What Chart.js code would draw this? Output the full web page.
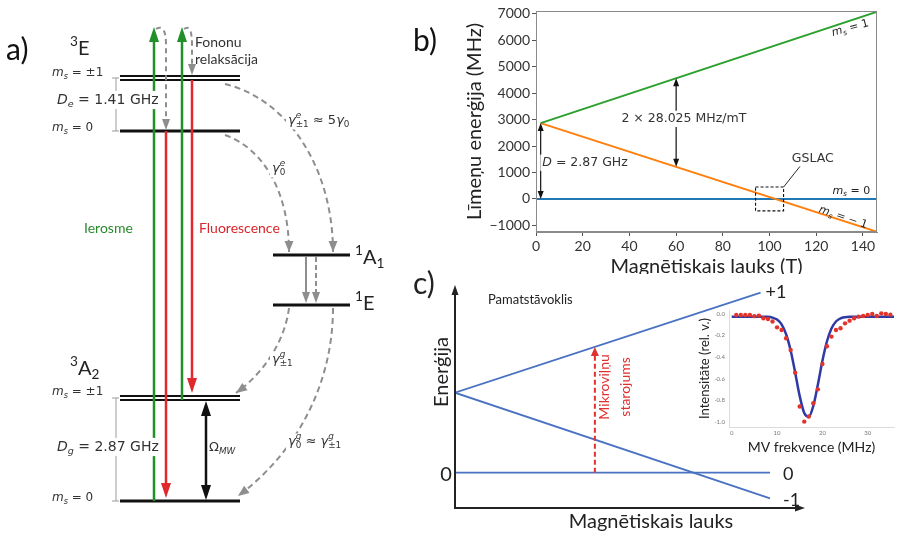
<!DOCTYPE html>
<html>
<head>
<meta charset="utf-8">
<script src="https://cdn.jsdelivr.net/npm/chart.js@4.4.1/dist/chart.umd.min.js"></script>
<style>
  body { margin: 0; background: #fff; width: 902px; height: 534px; overflow: hidden; position: relative; }
  canvas { position: absolute; }
  #ca { left: 0; top: 0; }
  #cb { left: 400px; top: 0; }
  #cc { left: 410px; top: 262px; }
  #cd { left: 690px; top: 300px; }
</style>
</head>
<body>
<canvas id="ca" width="400" height="534"></canvas>
<canvas id="cb" width="502" height="274"></canvas>
<canvas id="cc" width="492" height="272"></canvas>
<canvas id="cd" width="212" height="160"></canvas>
<script>
// ---- Panel a: NV centre level scheme (diagram units) ----
const levelY  = [76, 80, 131, 255, 305, 396, 400, 501];
const levelX0 = [120, 120, 120, 273, 273, 120, 120, 120];
const levelX1 = [240, 240, 240, 350, 350, 240, 240, 240];
const pumpX = [154, 182];        // green excitation
const pumpFrom = [501, 400];
const pumpTip = 27;
const fluoX = [166, 192];        // red fluorescence
const fluoFrom = [131, 80];
const fluoTip = [498, 393];

// ---- Panel b: ground state levels vs field ----
const fieldB = [2, 146];
const fieldB0 = [0, 146];
const levelPlusB = [2870, 7080];    // m_s = 1
const levelMinusB = [2870, -1240];  // m_s = -1
const levelZeroB = [0, 0];          // m_s = 0
const xTicksB = [0, 20, 40, 60, 80, 100, 120, 140];
const yTicksB = [-1000, 0, 1000, 2000, 3000, 4000, 5000, 6000, 7000];

// ---- Panel c: schematic splitting ----
const fieldC = [0, 10];
const fieldCPlus = [0, 9.7];
const levelPlusC = [1, 2.25];
const levelMinusC = [1, -0.32];
const levelZeroC = [0, 0];
const mwField = 4.44;

// ---- Inset: ODMR dip ----
const odmrX = [1, 2, 3, 4, 5, 6, 7, 8, 9, 10, 11, 12, 13, 14, 15, 16, 17, 18,
               19, 20, 21, 22, 23, 24, 25, 26, 27, 28, 29, 30, 31, 32, 33, 34, 35];
const odmrY = [-0.01, -0.01, -0.01, -0.01, -0.02, -0.015, -0.04, -0.046, -0.07, -0.124,
               -0.149, -0.226, -0.334, -0.545, -0.86, -1.0, -0.953, -0.83, -0.70, -0.464,
               -0.30, -0.21, -0.149, -0.133, -0.087, -0.062, -0.04, -0.025, -0.019, -0.009,
               0.0, -0.019, 0.006, 0.0, -0.006];
const fitX = [0, 2, 4, 6, 8, 9, 10, 11, 12, 13, 14, 15, 16, 17, 18, 19, 20, 21, 22,
              23, 24, 25, 26, 28, 30, 32, 34, 36];
const fitY = [-0.025, -0.025, -0.025, -0.025, -0.026, -0.034, -0.052, -0.097, -0.188,
              -0.339, -0.545, -0.763, -0.92, -0.955, -0.853, -0.657, -0.437, -0.256,
              -0.135, -0.07, -0.041, -0.03, -0.026, -0.025, -0.025, -0.025, -0.025, -0.025];
const insetXTicks = [0, 10, 20, 30];
const insetYTicks = [-1.0, -0.8, -0.6, -0.4, -0.2, 0.0];

Chart.defaults.font.family = 'Lato';
Chart.defaults.animation = false;

const pts = (xs, ys) => xs.map((x, i) => ({ x, y: ys[i] }));
const lerp = (xs, ys, x) => ys[0] + (ys[1] - ys[0]) * (x - xs[0]) / (xs[1] - xs[0]);
const noUi = { legend: { display: false }, tooltip: { enabled: false } };

function head(ctx, x, y, ang, len, w, color) {
    ctx.save();
    ctx.translate(x, y);
    ctx.rotate(ang);
    ctx.beginPath();
    ctx.moveTo(0, 0);
    ctx.lineTo(-len, -w / 2);
    ctx.lineTo(-len, w / 2);
    ctx.closePath();
    ctx.fillStyle = color;
    ctx.fill();
    ctx.restore();
}

// text with italics, sub/superscripts; flags: i italic, b sub, p sup; 3rd item = stacked sub
function rich(ctx, x, y, parts, size, opts = {}) {
    const fam = opts.family || 'DejaVu Sans';
    const f = (s, it) => `${it ? 'italic ' : ''}${s}px "${fam}"`;
    let w = 0;
    const items = parts.map(p => {
        const [t, fl = '', t2] = p;
        const s = (fl.includes('b') || fl.includes('p')) ? size * 0.68 : size;
        ctx.font = f(s, fl.includes('i'));
        let wd = ctx.measureText(t).width;
        if (t2) { ctx.font = f(s, false); wd = Math.max(wd, ctx.measureText(t2).width); }
        const r = { t, fl, t2, s, x: w };
        w += wd;
        return r;
    });
    const x0 = opts.align === 'center' ? -w / 2 : 0;
    ctx.save();
    ctx.translate(x, y);
    if (opts.rot) ctx.rotate(opts.rot);
    if (opts.bg) {
        ctx.fillStyle = opts.bg;
        ctx.fillRect(x0 - 2, -size * 0.65, w + 4, size * 1.3);
    }
    ctx.fillStyle = opts.color || '#333';
    ctx.textBaseline = 'middle';
    ctx.textAlign = 'left';
    items.forEach(r => {
        const dy = r.fl.includes('b') ? size * 0.3 : r.fl.includes('p') ? -size * 0.38 : 0;
        ctx.font = f(r.s, r.fl.includes('i'));
        ctx.fillText(r.t, x0 + r.x, dy);
        if (r.t2) { ctx.font = f(r.s, false); ctx.fillText(r.t2, x0 + r.x, size * 0.32); }
    });
    ctx.restore();
    return w;
}

// ================= Panel a =================
const seg = (x1, y1, x2, y2, color, width) => ({
    data: [{ x: x1, y: y1 }, { x: x2, y: y2 }],
    showLine: true, borderColor: color, borderWidth: width, pointRadius: 0
});
const dsA = [];
pumpX.forEach((px, i) => dsA.push(seg(px, pumpFrom[i], px, pumpTip + 12, '#22902a', 2.5)));
fluoX.forEach((fx, i) => dsA.push(seg(fx, fluoFrom[i], fx, fluoTip[i] - 12, '#e1282d', 2.5)));
levelY.forEach((ly, i) => {
    const dbl = i === 0 || i === 1 || i === 5 || i === 6;
    dsA.push(seg(levelX0[i], ly, levelX1[i], ly, '#111', dbl ? 2 : 3));
});

const diagram = {
    id: 'diagram',
    afterDatasetsDraw(chart) {
        const { ctx, scales: { x, y } } = chart;
        const X = v => x.getPixelForValue(v), Y = v => y.getPixelForValue(v);
        const gray = '#8e8e8e';
        ctx.save();

        // arrow heads of optical transitions
        pumpX.forEach(px => head(ctx, X(px), Y(pumpTip), -Math.PI / 2, 15, 10, '#22902a'));
        fluoX.forEach((fx, i) => head(ctx, X(fx), Y(fluoTip[i]), Math.PI / 2, 15, 10, '#e1282d'));

        // phonon relaxation loops
        ctx.strokeStyle = gray; ctx.lineWidth = 2; ctx.setLineDash([5, 4]);
        [[pumpX[0], fluoX[0], fluoFrom[0]], [pumpX[1], fluoX[1], levelY[0]]].forEach(([px, fx, end]) => {
            ctx.beginPath();
            ctx.moveTo(X(px + 2), Y(pumpTip + 2));
            ctx.quadraticCurveTo(X(fx), Y(pumpTip - 4), X(fx), Y(pumpTip + 18));
            ctx.lineTo(X(fx), Y(end - 10));
            ctx.stroke();
            head(ctx, X(fx), Y(end - 1), Math.PI / 2, 11, 8, gray);
        });

        // intersystem crossing curves
        const curves = [
            [[225, 84], [290, 100], [333, 170], [333, 252]],
            [[225, 135], [262, 148], [289, 190], [289, 252]],
            [[289, 308], [285, 340], [265, 372], [236, 393]],
            [[333, 308], [333, 380], [300, 450], [238, 496]]
        ];
        curves.forEach(c => {
            ctx.setLineDash([6, 4]);
            ctx.beginPath();
            ctx.moveTo(X(c[0][0]), Y(c[0][1]));
            ctx.bezierCurveTo(X(c[1][0]), Y(c[1][1]), X(c[2][0]), Y(c[2][1]), X(c[3][0]), Y(c[3][1]));
            ctx.stroke();
            ctx.setLineDash([]);
            const ang = Math.atan2(Y(c[3][1]) - Y(c[2][1]), X(c[3][0]) - X(c[2][0]));
            head(ctx, X(c[3][0]), Y(c[3][1]), ang, 11, 9, gray);
        });

        // singlet decay 1A1 -> 1E
        ctx.lineWidth = 2;
        ctx.setLineDash([]);
        ctx.beginPath(); ctx.moveTo(X(306), Y(257)); ctx.lineTo(X(306), Y(293)); ctx.stroke();
        head(ctx, X(306), Y(303), Math.PI / 2, 11, 8, gray);
        ctx.setLineDash([5, 3]);
        ctx.beginPath(); ctx.moveTo(X(316), Y(257)); ctx.lineTo(X(316), Y(293)); ctx.stroke();
        ctx.setLineDash([]);
        head(ctx, X(316), Y(303), Math.PI / 2, 11, 8, gray);

        // microwave drive
        ctx.strokeStyle = '#111'; ctx.lineWidth = 2.5;
        ctx.beginPath(); ctx.moveTo(X(206), Y(414)); ctx.lineTo(X(206), Y(487)); ctx.stroke();
        head(ctx, X(206), Y(401), -Math.PI / 2, 15, 10, '#111');
        head(ctx, X(206), Y(500), Math.PI / 2, 15, 10, '#111');

        // zero-field splitting brackets
        ctx.strokeStyle = '#9a9a9a'; ctx.lineWidth = 1;
        [[78, 131], [398, 501]].forEach(([a, b]) => {
            ctx.beginPath();
            ctx.moveTo(X(112), Y(a)); ctx.lineTo(X(119), Y(a));
            ctx.moveTo(X(116), Y(a)); ctx.lineTo(X(116), Y(b));
            ctx.moveTo(X(112), Y(b)); ctx.lineTo(X(119), Y(b));
            ctx.stroke();
        });

        // labels
        rich(ctx, X(6), Y(50), [['a)']], 30, { family: 'Lato', color: '#111' });
        rich(ctx, X(70), Y(49), [['3', 'p'], ['E']], 20, { family: 'Lato', color: '#222' });
        rich(ctx, X(70), Y(369), [['3', 'p'], ['A'], ['2', 'b']], 20, { family: 'Lato', color: '#222' });
        rich(ctx, X(355), Y(258), [['1', 'p'], ['A'], ['1', 'b']], 20, { family: 'Lato', color: '#222' });
        rich(ctx, X(355), Y(304), [['1', 'p'], ['E']], 20, { family: 'Lato', color: '#222' });

        const ms1 = [['m', 'i'], ['s', 'ib'], [' = ±1']];
        const ms0 = [['m', 'i'], ['s', 'ib'], [' = 0']];
        rich(ctx, X(52), Y(73), ms1, 12);
        rich(ctx, X(52), Y(128), ms0, 12);
        rich(ctx, X(52), Y(392), ms1, 12);
        rich(ctx, X(52), Y(498), ms0, 12);
        rich(ctx, X(57), Y(100), [['D', 'i'], ['e', 'ib'], [' = 1.41 GHz']], 14, { bg: '#fff' });
        rich(ctx, X(57), Y(447), [['D', 'i'], ['g', 'ib'], [' = 2.87 GHz']], 14, { bg: '#fff' });
        rich(ctx, X(209), Y(448), [['Ω'], ['MW', 'ib']], 13);
        rich(ctx, X(288), Y(121), [['γ', 'i'], ['e', 'ip', '±1'], [' ≈ 5'], ['γ', 'i'], ['0', 'b']], 13, { bg: '#fff' });
        rich(ctx, X(272), Y(169), [['γ', 'i'], ['e', 'ip', '0']], 13, { bg: '#fff' });
        rich(ctx, X(272), Y(360), [['γ', 'i'], ['g', 'ip', '±1']], 13, { bg: '#fff' });
        rich(ctx, X(288), Y(442), [['γ', 'i'], ['g', 'ip', '0'], [' ≈ '], ['γ', 'i'], ['g', 'ip', '±1']], 13, { bg: '#fff' });

        rich(ctx, X(195), Y(42), [['Fononu']], 14, { family: 'Lato', color: '#333' });
        rich(ctx, X(195), Y(59), [['relaksācija']], 14, { family: 'Lato', color: '#333' });
        rich(ctx, X(84), Y(228), [['Ierosme']], 14, { family: 'Lato', color: '#2a8a2a' });
        rich(ctx, X(199), Y(228), [['Fluorescence']], 14, { family: 'Lato', color: '#d9262b' });
        ctx.restore();
    }
};

new Chart(document.getElementById('ca'), {
    type: 'scatter',
    data: { datasets: dsA },
    options: {
        responsive: false, devicePixelRatio: 1, events: [],
        layout: { padding: 0 },
        plugins: noUi,
        scales: {
            x: { type: 'linear', display: false, min: 0, max: 400 },
            y: { type: 'linear', display: false, min: 0, max: 534, reverse: true }
        }
    },
    plugins: [diagram]
});

// ================= Panel b =================
const lineDs = (xs, ys, color, width) => ({
    data: pts(xs, ys), showLine: true, borderColor: color, borderWidth: width, pointRadius: 0
});

const annotB = {
    id: 'annotB',
    afterDatasetsDraw(chart) {
        const { ctx, chartArea: a, scales: { x, y } } = chart;
        const X = v => x.getPixelForValue(v), Y = v => y.getPixelForValue(v);
        ctx.save();
        ctx.strokeStyle = '#8a8a8a'; ctx.lineWidth = 1;
        ctx.strokeRect(a.left + 0.5, a.top + 0.5, a.width - 1, a.height - 1);

        const dArrow = (xv, y1, y2) => {
            ctx.strokeStyle = '#111'; ctx.lineWidth = 1.2;
            ctx.beginPath(); ctx.moveTo(X(xv), Y(y1) - 7); ctx.lineTo(X(xv), Y(y2) + 7); ctx.stroke();
            head(ctx, X(xv), Y(y1), Math.PI / 2, 8, 6, '#111');
            head(ctx, X(xv), Y(y2), -Math.PI / 2, 8, 6, '#111');
        };
        dArrow(fieldB[0], levelZeroB[0], levelPlusB[0]);
        dArrow(60, lerp(fieldB, levelMinusB, 60), lerp(fieldB, levelPlusB, 60));

        rich(ctx, X(2.7), Y(1370), [['D', 'i'], [' = 2.87 GHz']], 12.5, { bg: '#fff' });
        rich(ctx, X(63.3), Y(3030), [['2 × 28.025 MHz/mT']], 12.5, { align: 'center', bg: '#fff' });

        // GSLAC box
        ctx.strokeStyle = '#111'; ctx.lineWidth = 1.1; ctx.setLineDash([3, 2]);
        ctx.strokeRect(X(94), Y(450), X(106) - X(94), Y(-450) - Y(450));
        ctx.setLineDash([]);
        ctx.lineWidth = 0.9;
        ctx.beginPath(); ctx.moveTo(X(106), Y(450)); ctx.lineTo(X(113), Y(1230)); ctx.stroke();
        rich(ctx, X(118.5), Y(1520), [['GSLAC']], 12.5, { align: 'center' });

        const lab = { color: '#222' };
        rich(ctx, X(134.5), Y(6460), [['m', 'i'], ['s', 'ib'], [' = 1']], 11, { ...lab, align: 'center', rot: -0.27 });
        rich(ctx, X(135), Y(300), [['m', 'i'], ['s', 'ib'], [' = 0']], 11, { ...lab, align: 'center' });
        rich(ctx, X(131.5), Y(-700), [['m', 'i'], ['s', 'ib'], [' = − 1']], 11, { ...lab, align: 'center', rot: 0.33 });

        ctx.font = '30px Lato'; ctx.fillStyle = '#111';
        ctx.textBaseline = 'middle'; ctx.textAlign = 'left';
        ctx.fillText('b)', 13, 41);
        ctx.restore();
    }
};

new Chart(document.getElementById('cb'), {
    type: 'scatter',
    data: {
        datasets: [
            lineDs(fieldB, levelPlusB, '#2ca02c', 2),
            lineDs(fieldB, levelMinusB, '#ff7f0e', 2),
            lineDs(fieldB0, levelZeroB, '#1f77b4', 2)
        ]
    },
    options: {
        responsive: false, devicePixelRatio: 1, events: [],
        layout: { padding: { left: 64, right: 25, top: 11, bottom: 0 } },
        plugins: noUi,
        scales: {
            x: {
                type: 'linear', min: 0, max: 146,
                afterBuildTicks: s => { s.ticks = xTicksB.map(v => ({ value: v })); },
                afterFit: s => { s.height = 42; },
                grid: { drawOnChartArea: false, tickLength: 4, tickColor: '#555' },
                border: { color: '#8a8a8a' },
                ticks: { font: { size: 14 }, color: '#333', padding: 2, maxRotation: 0, callback: v => String(v) },
                title: { display: true, text: 'Magnētiskais lauks (T)', font: { size: 20, lineHeight: 0.7 }, color: '#222', padding: 0 }
            },
            y: {
                type: 'linear', min: -1250, max: 7110,
                afterBuildTicks: s => { s.ticks = yTicksB.map(v => ({ value: v })); },
                afterFit: s => { s.width = 72; },
                grid: { drawOnChartArea: false, tickLength: 4, tickColor: '#555' },
                border: { color: '#8a8a8a' },
                ticks: { font: { size: 14 }, color: '#333', padding: 2, callback: v => v < 0 ? '−' + Math.abs(v) : String(v) },
                title: { display: true, text: 'Līmeņu enerģija (MHz)', font: { size: 20, lineHeight: 1.1 }, color: '#222', padding: 0 }
            }
        }
    },
    plugins: [annotB]
});

// ================= Panel c =================
const annotC = {
    id: 'annotC',
    afterDatasetsDraw(chart) {
        const { ctx, chartArea: a, scales: { x, y } } = chart;
        const X = v => x.getPixelForValue(v), Y = v => y.getPixelForValue(v);
        ctx.save();
        // axes with arrows
        ctx.strokeStyle = '#222'; ctx.lineWidth = 2;
        ctx.beginPath();
        ctx.moveTo(a.left, a.top + 6); ctx.lineTo(a.left, a.bottom); ctx.lineTo(a.right - 6, a.bottom);
        ctx.stroke();
        head(ctx, a.left, a.top, -Math.PI / 2, 10, 7, '#222');
        head(ctx, a.right, a.bottom, 0, 10, 7, '#222');

        // microwave transition
        const top = lerp(fieldCPlus, levelPlusC, mwField);
        ctx.strokeStyle = '#e0302f'; ctx.lineWidth = 2; ctx.setLineDash([5, 3]);
        ctx.beginPath(); ctx.moveTo(X(mwField), Y(0)); ctx.lineTo(X(mwField), Y(top) + 8); ctx.stroke();
        ctx.setLineDash([]);
        head(ctx, X(mwField), Y(top), -Math.PI / 2, 9, 8, '#e0302f');

        ctx.save();
        ctx.translate(X(mwField) + 10, Y(top) + 40);
        ctx.rotate(-Math.PI / 2);
        ctx.fillStyle = '#e0302f'; ctx.font = '14px Lato';
        ctx.textAlign = 'center'; ctx.textBaseline = 'middle';
        ctx.fillText('Mikroviļņu', 0, 0);
        ctx.fillText('starojums', 0, 21);
        ctx.restore();

        ctx.fillStyle = '#222'; ctx.textBaseline = 'middle';
        ctx.font = '30px Lato'; ctx.textAlign = 'left';
        ctx.fillText('c)', 3, 22);
        ctx.font = '13px Lato';
        ctx.fillText('Pamatstāvoklis', 78, 38);
        ctx.font = '18px Lato';
        ctx.fillText('+1', X(fieldCPlus[1]) + 5, Y(levelPlusC[1]));
        ctx.fillText('0', X(fieldC[1]) + 13, Y(0) + 1);
        ctx.fillText('-1', X(fieldC[1]) + 13, Y(levelMinusC[1]) + 2);
        ctx.font = '20px Lato'; ctx.textAlign = 'center';
        ctx.fillText('0', 36, Y(0) + 2);
        ctx.fillText('Magnētiskais lauks', 241, 260);
        ctx.save();
        ctx.translate(32, 110); ctx.rotate(-Math.PI / 2);
        ctx.fillText('Enerģija', 0, 0);
        ctx.restore();
        ctx.restore();
    }
};

new Chart(document.getElementById('cc'), {
    type: 'scatter',
    data: {
        datasets: [
            lineDs(fieldCPlus, levelPlusC, '#4a72c2', 1.8),
            lineDs(fieldC, levelMinusC, '#4a72c2', 1.8),
            lineDs(fieldC, levelZeroC, '#4a72c2', 1.8)
        ]
    },
    options: {
        responsive: false, devicePixelRatio: 1, events: [],
        layout: { padding: { left: 45, right: 97, top: 23, bottom: 26 } },
        plugins: noUi,
        scales: {
            x: { type: 'linear', display: false, min: 0, max: 11.11 },
            y: { type: 'linear', display: false, min: -0.441, max: 2.346 }
        }
    },
    plugins: [annotC]
});

// ================= Inset =================
new Chart(document.getElementById('cd'), {
    type: 'scatter',
    data: {
        datasets: [
            { data: pts(odmrX, odmrY), pointRadius: 2.2, pointBackgroundColor: '#e3342b', pointBorderWidth: 0, showLine: false },
            { data: pts(fitX, fitY), showLine: true, borderColor: '#2f3aa5', borderWidth: 2.5, pointRadius: 0, cubicInterpolationMode: 'monotone' }
        ]
    },
    options: {
        responsive: false, devicePixelRatio: 1, events: [],
        layout: { padding: { left: 8, right: 8, top: 10, bottom: 5 } },
        plugins: noUi,
        scales: {
            x: {
                type: 'linear', min: -0.6, max: 35.8,
                afterBuildTicks: s => { s.ticks = insetXTicks.map(v => ({ value: v })); },
                afterFit: s => { s.height = 28; },
                grid: { display: false, drawTicks: false },
                border: { color: '#dcdcdc' },
                ticks: { font: { size: 6 }, color: '#777', padding: 2, maxRotation: 0 },
                title: { display: true, text: 'MV frekvence (MHz)', font: { size: 14, lineHeight: 1.1 }, color: '#222', padding: 0 }
            },
            y: {
                type: 'linear', min: -1.05, max: 0.037,
                afterBuildTicks: s => { s.ticks = insetYTicks.map(v => ({ value: v })); },
                afterFit: s => { s.width = 31; },
                grid: { display: false, drawTicks: false },
                border: { color: '#dcdcdc' },
                ticks: { font: { size: 6 }, color: '#777', padding: 4, callback: v => v.toFixed(1) },
                title: { display: true, text: 'Intensitāte (rel. v.)', font: { size: 13, lineHeight: 1.1 }, color: '#222', padding: 0 }
            }
        }
    }
});
</script>
</body>
</html>
